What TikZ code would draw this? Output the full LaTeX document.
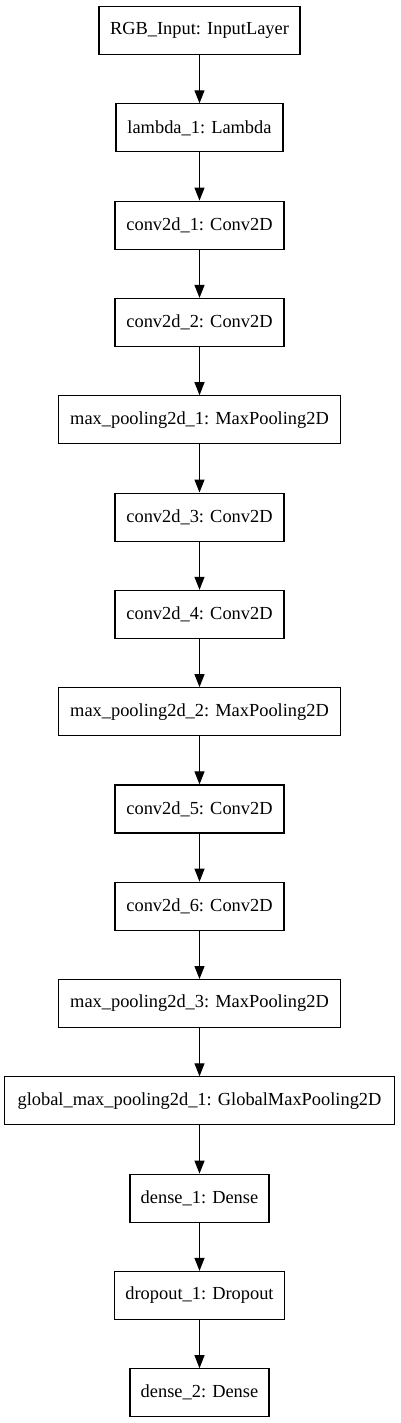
\documentclass[tikz,border=0pt]{standalone}
\usepackage{fontspec}
\setmainfont{Liberation Serif}
\usetikzlibrary{arrows.meta}
\begin{document}
\begin{tikzpicture}[x=1pt,y=1pt,
  layer/.style={draw, line width=1.1pt, minimum height=48pt, inner sep=0pt, anchor=north,
    font=\fontsize{18.4}{22}\selectfont},
  conn/.style={line width=1.1pt, -{Triangle[length=13pt,width=10pt]}}]
\useasboundingbox (0,0) rectangle (400,-1423);
\def\cx{199.5}
\node[layer, minimum width=201pt] (n1) at (\cx,-6) {RGB\_Input: InputLayer};
\node[layer, minimum width=167pt] (n2) at (\cx,-103.3) {lambda\_1: Lambda};
\node[layer, minimum width=169pt] (n3) at (\cx,-200.6) {conv2d\_1: Conv2D};
\node[layer, minimum width=169pt] (n4) at (\cx,-297.9) {conv2d\_2: Conv2D};
\node[layer, minimum width=282pt] (n5) at (\cx,-395.2) {max\_pooling2d\_1: MaxPooling2D};
\node[layer, minimum width=169pt] (n6) at (\cx,-492.5) {conv2d\_3: Conv2D};
\node[layer, minimum width=169pt] (n7) at (\cx,-589.8) {conv2d\_4: Conv2D};
\node[layer, minimum width=282pt] (n8) at (\cx,-687.1) {max\_pooling2d\_2: MaxPooling2D};
\node[layer, minimum width=169pt] (n9) at (\cx,-784.4) {conv2d\_5: Conv2D};
\node[layer, minimum width=169pt] (n10) at (\cx,-881.7) {conv2d\_6: Conv2D};
\node[layer, minimum width=282pt] (n11) at (\cx,-979.0) {max\_pooling2d\_3: MaxPooling2D};
\node[layer, minimum width=390pt] (n12) at (\cx,-1076.3) {global\_max\_pooling2d\_1: GlobalMaxPooling2D};
\node[layer, minimum width=139pt] (n13) at (\cx,-1173.6) {dense\_1: Dense};
\node[layer, minimum width=170pt] (n14) at (\cx,-1270.9) {dropout\_1: Dropout};
\node[layer, minimum width=139pt] (n15) at (\cx,-1368.2) {dense\_2: Dense};
\foreach \a/\b in {1/2,2/3,3/4,4/5,5/6,6/7,7/8,8/9,9/10,10/11,11/12,12/13,13/14,14/15}
  \draw[conn] (n\a.south) -- (n\b.north);
\end{tikzpicture}
\end{document}
